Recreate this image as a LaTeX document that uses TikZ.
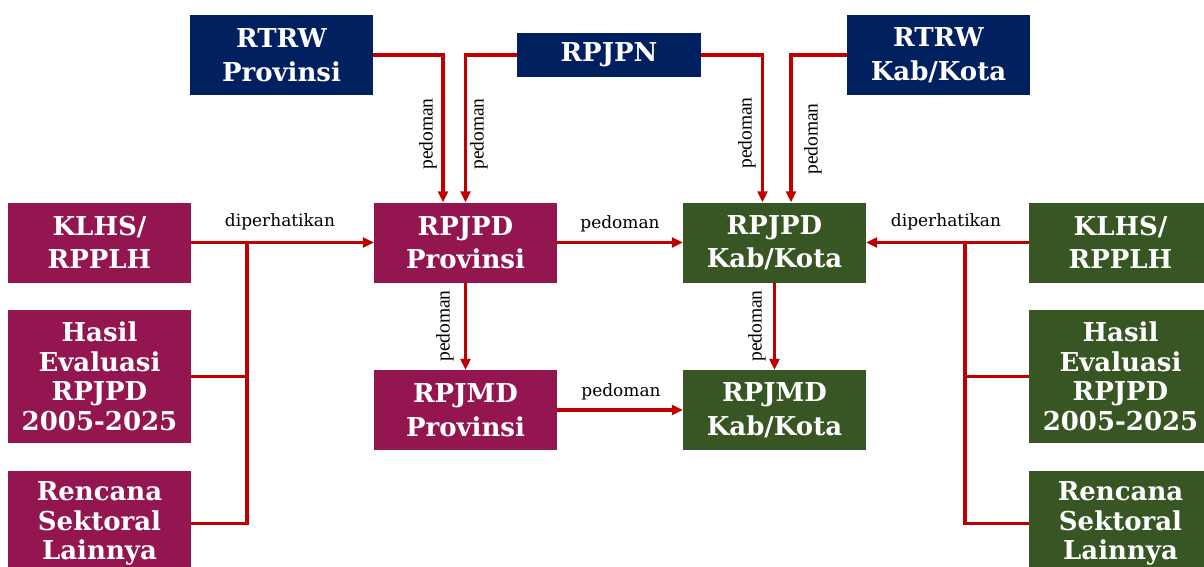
\documentclass[tikz,border=0pt]{standalone}
\usepackage{fontspec}
\setmainfont{DejaVu Serif}
\newfontfamily\lblfont{Liberation Serif}
\usetikzlibrary{arrows.meta}
\definecolor{navy}{HTML}{002060}
\definecolor{maroon}{HTML}{941651}
\definecolor{dgreen}{HTML}{375623}
\definecolor{cred}{HTML}{C00000}
\begin{document}
\begin{tikzpicture}[x=1pt,y=-1pt,
 box/.style={rectangle, inner sep=0pt, minimum width=183pt, text=white, font=\fontsize{26}{33.5}\selectfont\bfseries, align=center},
 twoline/.style={box, minimum height=80pt},
 multiline/.style={box, font=\fontsize{26}{29.5}\selectfont\bfseries},
 conn/.style={draw=cred, line width=3.5pt, -{Triangle[length=11pt,width=10pt]}},
 wire/.style={draw=cred, line width=3.5pt},
 hlab/.style={font=\fontsize{17}{17}\selectfont, text=black, inner sep=0pt},
 vlab/.style={font=\lblfont\fontsize{19.5}{19.5}\selectfont, text=black, rotate=90, inner sep=0pt}
]
\useasboundingbox (0,0) rectangle (1204,567);
\clip (0,0) rectangle (1204,567);
\fill[white] (0,0) rectangle (1204,567);

% top row
\node[twoline, fill=navy] (rtrwp) at (281.5,55) {RTRW\\Provinsi};
\node[box, minimum width=184pt, minimum height=44pt, fill=navy] (rpjpn) at (609,55) {RPJPN};
\node[twoline, fill=navy] (rtrwk) at (938.5,55) {RTRW\\Kab/Kota};

% left column
\node[twoline, fill=maroon] (klhsL) at (99.5,242.5) {KLHS/\\RPPLH};
\node[multiline, minimum height=133pt, fill=maroon] (hasilL) at (99.5,376.5) {Hasil\\Evaluasi\\RPJPD\\2005-2025};
\node[multiline, minimum height=105pt, fill=maroon] (renL) at (99.5,523.5) {Rencana\\Sektoral\\Lainnya};

% right column
\node[twoline, fill=dgreen] (klhsR) at (1120.5,242.5) {KLHS/\\RPPLH};
\node[multiline, minimum height=133pt, fill=dgreen] (hasilR) at (1120.5,376.5) {Hasil\\Evaluasi\\RPJPD\\2005-2025};
\node[multiline, minimum height=105pt, fill=dgreen] (renR) at (1120.5,523.5) {Rencana\\Sektoral\\Lainnya};

% centre
\node[twoline, fill=maroon] (rpjpdp) at (465.5,242.5) {RPJPD\\Provinsi};
\node[twoline, fill=maroon] (rpjmdp) at (465.5,410) {RPJMD\\Provinsi};
\node[twoline, fill=dgreen] (rpjpdk) at (774.5,242.5) {RPJPD\\Kab/Kota};
\node[twoline, fill=dgreen] (rpjmdk) at (774.5,410) {RPJMD\\Kab/Kota};

% top connectors
\draw[conn] (rtrwp.east) -| ([xshift=-22.5pt]rpjpdp.north);
\draw[conn] (rpjpn.west) -| (rpjpdp.north);
\draw[conn] (rpjpn.east) -| ([xshift=-12pt]rpjpdk.north);
\draw[conn] (rtrwk.west) -| ([xshift=16.5pt]rpjpdk.north);

% centre connectors
\draw[conn] (rpjpdp) -- (rpjpdk);
\draw[conn] (rpjpdp) -- (rpjmdp);
\draw[conn] (rpjpdk) -- (rpjmdk);
\draw[conn] (rpjmdp) -- (rpjmdk);

% left bus
\coordinate (busL) at (247,242.5);
\draw[conn] (klhsL) -- (rpjpdp);
\draw[wire, line join=miter] (busL) |- (renL.east);
\draw[wire] (hasilL.east) -- (hasilL.east -| busL);

% right bus
\coordinate (busR) at (965,242.5);
\draw[conn] (klhsR) -- (rpjpdk);
\draw[wire, line join=miter] (busR) |- (renR.west);
\draw[wire] (hasilR.west) -- (hasilR.west -| busR);

% labels
\node[hlab] (l1) at (280,222) {diperhatikan};
\node[hlab] (l2) at (946,222) {diperhatikan};
\node[hlab] (l3) at (620,224) {pedoman};
\node[hlab] (l4) at (621,392) {pedoman};
\node[vlab] (v1) at (428,134) {pedoman};
\node[vlab] (v2) at (479,134) {pedoman};
\node[vlab] (v3) at (747,133) {pedoman};
\node[vlab] (v4) at (813,139) {pedoman};
\node[vlab] (v5) at (445,326) {pedoman};
\node[vlab] (v6) at (757,326) {pedoman};
\end{tikzpicture}
\end{document}
